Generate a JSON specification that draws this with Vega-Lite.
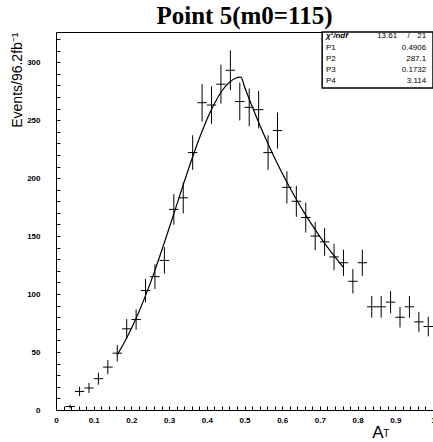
{
  "$schema": "https://vega.github.io/schema/vega-lite/v6.json",
  "width": 377,
  "height": 378,
  "autosize": {"type": "none"},
  "padding": {"left": 56, "top": 32, "right": 0, "bottom": 32},
  "background": "white",
  "config": {
    "view": {"stroke": "black", "strokeWidth": 1},
    "axis": {
      "grid": false,
      "domain": false,
      "tickColor": "black",
      "tickWidth": 1,
      "labelColor": "black",
      "labelFont": "Liberation Sans",
      "labelFontWeight": "bold",
      "labelFontSize": 8,
      "titleColor": "black",
      "titleFont": "Liberation Sans",
      "titleFontWeight": "normal"
    }
  },
  "title": {
    "text": "Point 5(m0=115)",
    "font": "Liberation Serif",
    "fontSize": 25,
    "fontWeight": "bold",
    "color": "black",
    "anchor": "middle",
    "offset": 2
  },
  "datasets": {
    "hist": [
      {"x": 0.0375, "xlo": 0.025, "xhi": 0.05, "y": 3, "lo": 1.3, "hi": 4.7},
      {"x": 0.0625, "xlo": 0.05, "xhi": 0.075, "y": 16, "lo": 12, "hi": 20},
      {"x": 0.0875, "xlo": 0.075, "xhi": 0.1, "y": 19, "lo": 14.6, "hi": 23.4},
      {"x": 0.1125, "xlo": 0.1, "xhi": 0.125, "y": 27, "lo": 21.8, "hi": 32.2},
      {"x": 0.1375, "xlo": 0.125, "xhi": 0.15, "y": 37, "lo": 30.9, "hi": 43.1},
      {"x": 0.1625, "xlo": 0.15, "xhi": 0.175, "y": 49, "lo": 42, "hi": 56},
      {"x": 0.1875, "xlo": 0.175, "xhi": 0.2, "y": 70, "lo": 61.6, "hi": 78.4},
      {"x": 0.2125, "xlo": 0.2, "xhi": 0.225, "y": 78, "lo": 69.2, "hi": 86.8},
      {"x": 0.2375, "xlo": 0.225, "xhi": 0.25, "y": 103, "lo": 92.9, "hi": 113.1},
      {"x": 0.2625, "xlo": 0.25, "xhi": 0.275, "y": 115, "lo": 104.3, "hi": 125.7},
      {"x": 0.2875, "xlo": 0.275, "xhi": 0.3, "y": 129, "lo": 117.6, "hi": 140.4},
      {"x": 0.3125, "xlo": 0.3, "xhi": 0.325, "y": 173, "lo": 159.8, "hi": 186.2},
      {"x": 0.3375, "xlo": 0.325, "xhi": 0.35, "y": 183, "lo": 169.5, "hi": 196.5},
      {"x": 0.3625, "xlo": 0.35, "xhi": 0.375, "y": 222, "lo": 207.1, "hi": 236.9},
      {"x": 0.3875, "xlo": 0.375, "xhi": 0.4, "y": 265, "lo": 248.7, "hi": 281.3},
      {"x": 0.4125, "xlo": 0.4, "xhi": 0.425, "y": 263, "lo": 246.8, "hi": 279.2},
      {"x": 0.4375, "xlo": 0.425, "xhi": 0.45, "y": 281, "lo": 264.2, "hi": 297.8},
      {"x": 0.4625, "xlo": 0.45, "xhi": 0.475, "y": 293, "lo": 275.9, "hi": 310.1},
      {"x": 0.4875, "xlo": 0.475, "xhi": 0.5, "y": 266, "lo": 249.7, "hi": 282.3},
      {"x": 0.5125, "xlo": 0.5, "xhi": 0.525, "y": 261, "lo": 244.8, "hi": 277.2},
      {"x": 0.5375, "xlo": 0.525, "xhi": 0.55, "y": 259, "lo": 242.9, "hi": 275.1},
      {"x": 0.5625, "xlo": 0.55, "xhi": 0.575, "y": 222, "lo": 207.1, "hi": 236.9},
      {"x": 0.5875, "xlo": 0.575, "xhi": 0.6, "y": 241, "lo": 225.5, "hi": 256.5},
      {"x": 0.6125, "xlo": 0.6, "xhi": 0.625, "y": 192, "lo": 178.1, "hi": 205.9},
      {"x": 0.6375, "xlo": 0.625, "xhi": 0.65, "y": 180, "lo": 166.6, "hi": 193.4},
      {"x": 0.6625, "xlo": 0.65, "xhi": 0.675, "y": 166, "lo": 153.1, "hi": 178.9},
      {"x": 0.6875, "xlo": 0.675, "xhi": 0.7, "y": 150, "lo": 137.8, "hi": 162.2},
      {"x": 0.7125, "xlo": 0.7, "xhi": 0.725, "y": 145, "lo": 133, "hi": 157},
      {"x": 0.7375, "xlo": 0.725, "xhi": 0.75, "y": 132, "lo": 120.5, "hi": 143.5},
      {"x": 0.7625, "xlo": 0.75, "xhi": 0.775, "y": 127, "lo": 115.7, "hi": 138.3},
      {"x": 0.7875, "xlo": 0.775, "xhi": 0.8, "y": 111, "lo": 100.5, "hi": 121.5},
      {"x": 0.8125, "xlo": 0.8, "xhi": 0.825, "y": 127, "lo": 115.7, "hi": 138.3},
      {"x": 0.8375, "xlo": 0.825, "xhi": 0.85, "y": 89, "lo": 79.6, "hi": 98.4},
      {"x": 0.8625, "xlo": 0.85, "xhi": 0.875, "y": 89, "lo": 79.6, "hi": 98.4},
      {"x": 0.8875, "xlo": 0.875, "xhi": 0.9, "y": 93, "lo": 83.4, "hi": 102.6},
      {"x": 0.9125, "xlo": 0.9, "xhi": 0.925, "y": 80, "lo": 71.1, "hi": 88.9},
      {"x": 0.9375, "xlo": 0.925, "xhi": 0.95, "y": 89, "lo": 79.6, "hi": 98.4},
      {"x": 0.9625, "xlo": 0.95, "xhi": 0.975, "y": 76, "lo": 67.3, "hi": 84.7},
      {"x": 0.9875, "xlo": 0.975, "xhi": 1.0, "y": 72, "lo": 63.5, "hi": 80.5}
    ],
    "fit": [
      {"x": 0.1625, "y": 47.7},
      {"x": 0.18, "y": 57.5},
      {"x": 0.2, "y": 70.3},
      {"x": 0.22, "y": 84.7},
      {"x": 0.24, "y": 100.8},
      {"x": 0.26, "y": 118.3},
      {"x": 0.28, "y": 137.1},
      {"x": 0.3, "y": 156.7},
      {"x": 0.32, "y": 176.7},
      {"x": 0.34, "y": 196.7},
      {"x": 0.36, "y": 216.1},
      {"x": 0.38, "y": 234.1},
      {"x": 0.4, "y": 250.4},
      {"x": 0.42, "y": 264.2},
      {"x": 0.44, "y": 275.1},
      {"x": 0.46, "y": 282.6},
      {"x": 0.475, "y": 285.9},
      {"x": 0.4906, "y": 287.1},
      {"x": 0.5, "y": 278.8},
      {"x": 0.52, "y": 262.0},
      {"x": 0.54, "y": 246.2},
      {"x": 0.56, "y": 231.3},
      {"x": 0.58, "y": 217.3},
      {"x": 0.6, "y": 204.2},
      {"x": 0.62, "y": 191.9},
      {"x": 0.64, "y": 180.3},
      {"x": 0.66, "y": 169.4},
      {"x": 0.68, "y": 159.2},
      {"x": 0.7, "y": 149.6},
      {"x": 0.72, "y": 140.5},
      {"x": 0.74, "y": 132.1},
      {"x": 0.76, "y": 124.1},
      {"x": 0.7625, "y": 123.1}
    ],
    "stats": [
      {"name": "P1", "value": "0.4906", "row": 312.6},
      {"name": "P2", "value": "287.1", "row": 302.8},
      {"name": "P3", "value": "0.1732", "row": 293.4},
      {"name": "P4", "value": "3.114", "row": 283.9}
    ]
  },
  "resolve": {"axis": {"x": "independent", "y": "independent"}},
  "layer": [
    {
      "data": {"name": "hist"},
      "mark": {"type": "rule", "color": "black", "strokeWidth": 1},
      "encoding": {
        "x": {
          "field": "x", "type": "quantitative",
          "scale": {"domain": [0, 1], "nice": false, "zero": false},
          "axis": {
            "orient": "bottom",
            "values": [0, 0.02, 0.04, 0.06, 0.08, 0.1, 0.12, 0.14, 0.16, 0.18, 0.2, 0.22, 0.24, 0.26, 0.28, 0.3, 0.32, 0.34, 0.36, 0.38, 0.4, 0.42, 0.44, 0.46, 0.48, 0.5, 0.52, 0.54, 0.56, 0.58, 0.6, 0.62, 0.64, 0.66, 0.68, 0.7, 0.72, 0.74, 0.76, 0.78, 0.8, 0.82, 0.84, 0.86, 0.88, 0.9, 0.92, 0.94, 0.96, 0.98, 1],
            "labelExpr": "abs(datum.value * 10 - round(datum.value * 10)) < 0.001 ? format(datum.value, '~g') : ''",
            "tickSize": -4,
            "labelPadding": 10.5,
            "labelFlush": false,
            "labelOverlap": false,
            "title": "A",
            "titleFontSize": 17,
            "titleX": 321.5,
            "titleY": 27,
            "titleAlign": "center",
            "titleBaseline": "alphabetic"
          }
        },
        "y": {
          "field": "lo", "type": "quantitative",
          "scale": {"domain": [0, 326], "nice": false, "zero": true},
          "axis": {
            "orient": "left",
            "values": [0, 10, 20, 30, 40, 50, 60, 70, 80, 90, 100, 110, 120, 130, 140, 150, 160, 170, 180, 190, 200, 210, 220, 230, 240, 250, 260, 270, 280, 290, 300, 310, 320],
            "labelExpr": "datum.value % 50 === 0 ? datum.label : ''",
            "tickSize": -4,
            "labelPadding": 20,
            "labelFlush": false,
            "labelOverlap": false,
            "title": "Events/96.2fb⁻¹",
            "titleFontSize": 14,
            "titleAngle": -90,
            "titleX": -39,
            "titleY": 0,
            "titleAlign": "right",
            "titleBaseline": "middle"
          }
        },
        "y2": {"field": "hi"}
      }
    },
    {
      "data": {"name": "hist"},
      "mark": {"type": "rule", "color": "black", "strokeWidth": 1},
      "encoding": {
        "x": {"field": "xlo", "type": "quantitative", "axis": null},
        "x2": {"field": "xhi"},
        "y": {"field": "y", "type": "quantitative", "axis": null}
      }
    },
    {
      "data": {"name": "fit"},
      "mark": {"type": "line", "color": "black", "strokeWidth": 1.2, "interpolate": "monotone"},
      "encoding": {
        "x": {"field": "x", "type": "quantitative", "axis": null},
        "y": {"field": "y", "type": "quantitative", "axis": null}
      }
    },
    {
      "data": {"values": [{}]},
      "mark": {"type": "rect", "fill": "white", "stroke": "black", "strokeWidth": 1.5},
      "encoding": {
        "x": {"datum": 0.706, "type": "quantitative", "axis": null},
        "x2": {"datum": 1.0},
        "y": {"datum": 277.8, "type": "quantitative", "axis": null},
        "y2": {"datum": 326}
      }
    },
    {
      "data": {"values": [{}]},
      "mark": {"type": "text", "text": "χ²/ndf", "font": "Liberation Sans", "fontSize": 8, "fontWeight": "bold", "fontStyle": "italic", "align": "left", "baseline": "middle", "color": "black"},
      "encoding": {
        "x": {"datum": 0.716, "type": "quantitative", "axis": null},
        "y": {"datum": 322.9, "type": "quantitative", "axis": null}
      }
    },
    {
      "data": {"values": [{}]},
      "mark": {"type": "text", "text": "13.61", "font": "Liberation Sans", "fontSize": 8, "align": "right", "baseline": "middle", "color": "black"},
      "encoding": {
        "x": {"datum": 0.905, "type": "quantitative", "axis": null},
        "y": {"datum": 322.9, "type": "quantitative", "axis": null}
      }
    },
    {
      "data": {"values": [{}]},
      "mark": {"type": "text", "text": "/", "font": "Liberation Sans", "fontSize": 8, "align": "center", "baseline": "middle", "color": "black"},
      "encoding": {
        "x": {"datum": 0.935, "type": "quantitative", "axis": null},
        "y": {"datum": 322.9, "type": "quantitative", "axis": null}
      }
    },
    {
      "data": {"values": [{}]},
      "mark": {"type": "text", "text": "21", "font": "Liberation Sans", "fontSize": 8, "align": "right", "baseline": "middle", "color": "black"},
      "encoding": {
        "x": {"datum": 0.982, "type": "quantitative", "axis": null},
        "y": {"datum": 322.9, "type": "quantitative", "axis": null}
      }
    },
    {
      "data": {"name": "stats"},
      "mark": {"type": "text", "font": "Liberation Sans", "fontSize": 8, "align": "left", "baseline": "middle", "color": "black"},
      "encoding": {
        "x": {"datum": 0.716, "type": "quantitative", "axis": null},
        "y": {"field": "row", "type": "quantitative", "axis": null},
        "text": {"field": "name"}
      }
    },
    {
      "data": {"name": "stats"},
      "mark": {"type": "text", "font": "Liberation Sans", "fontSize": 8, "align": "right", "baseline": "middle", "color": "black"},
      "encoding": {
        "x": {"datum": 0.982, "type": "quantitative", "axis": null},
        "y": {"field": "row", "type": "quantitative", "axis": null},
        "text": {"field": "value"}
      }
    },
    {
      "data": {"values": [{}]},
      "mark": {"type": "text", "text": "T", "font": "Liberation Sans", "fontSize": 10, "align": "center", "baseline": "alphabetic", "color": "black"},
      "encoding": {
        "x": {"datum": 0.876, "type": "quantitative", "axis": null},
        "y": {"datum": -23.3, "type": "quantitative", "axis": null}
      }
    }
  ]
}
